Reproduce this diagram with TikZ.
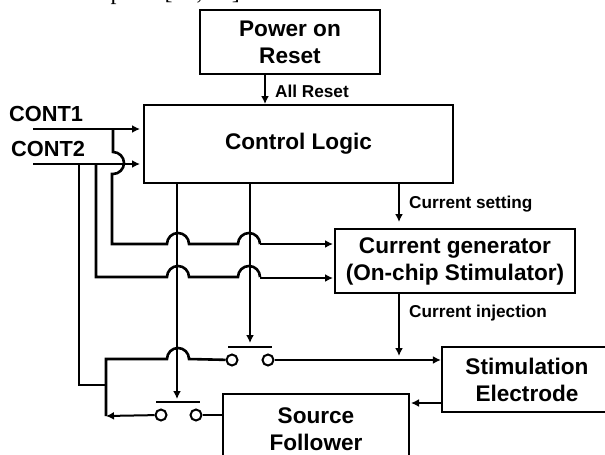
\documentclass[tikz,border=0pt]{standalone}
\usepackage{fontspec}
\setmainfont{Liberation Sans}
\newfontfamily\serifcut{Liberation Serif}
\usetikzlibrary{arrows.meta, positioning}
\tikzset{
  % solid black block
  blockbox/.style={draw=black, line width=2.3pt, fill=white, inner sep=0pt, align=center,
                   font=\bfseries\fontsize{22.6}{27}\selectfont},
  % signal wires
  wire/.style={draw=black, line width=2.6pt},
  sigwire/.style={draw=black, line width=2pt, -{Latex[length=8pt,width=8pt]}},
  % switch contact
  contact/.style={circle, draw=black, fill=white, line width=2pt, inner sep=0pt, minimum size=11pt},
  siglabel/.style={font=\bfseries\fontsize{17.2}{19}\selectfont, anchor=west, inner sep=0pt},
  contlabel/.style={font=\bfseries\fontsize{21.8}{24}\selectfont, anchor=west, inner sep=0pt},
}
\begin{document}
\begin{tikzpicture}[x=1pt,y=-1pt]
  \useasboundingbox (0,0) rectangle (605,455);
  \begin{scope}
  \clip (0,0) rectangle (605,455);
  % blocks
  \node[blockbox, minimum width=180pt, minimum height=64pt] (por) at (290,42) {Power on\\Reset};
  \node[blockbox, minimum width=309pt, minimum height=78pt] (logic) at (298.5,144) {Control Logic};
  \node[blockbox, minimum width=240pt, minimum height=64pt] (gen) at (455,261) {Current generator\\(On-chip Stimulator)};
  \node[blockbox, minimum width=170pt, minimum height=65pt] (elec) at (527,379.5) {Stimulation\\Electrode};
  \node[blockbox, minimum width=186pt, minimum height=70pt] (follower) at (316,429) {Source\\Follower};
  % text above the figure, cut by the page edge
  \node[font=\serifcut\fontsize{24}{26}\selectfont, anchor=base east, inner sep=0pt] (cuttext) at (246,0) {reports [10, 11].};
  \end{scope}
  % control inputs
  \node[contlabel] (cont1) at (9,114) {CONT1};
  \node[contlabel] (cont2) at (11,149) {CONT2};
  \coordinate (in1) at (33,129);
  \coordinate (in2) at (33,164);
  \draw[sigwire] (in1) -- (140,129);
  \draw[sigwire] (in2) -- (140,164);
  \draw[sigwire, line width=2.6pt] (por.south -| 265,0) -- (265,104);
  \node[siglabel] (allreset) at (275,91) {All Reset};
  % current path
  \draw[sigwire] (399,183) -- (399,222);
  \node[siglabel] (setting) at (409,204) {Current setting};
  \draw[sigwire] (399,293) -- (399,356);
  \node[siglabel] (injection) at (409,313) {Current injection};
  % switches
  \node[contact] (sw1a) at (232,360) {};
  \node[contact] (sw1b) at (268,360) {};
  \node[contact] (sw2a) at (161,415) {};
  \node[contact] (sw2b) at (196,415) {};
  \draw[line width=2.6pt] (228,347) coordinate (bar1l) -- (272,347) coordinate (bar1r);
  \draw[line width=2.6pt] (156,402) coordinate (bar2l) -- (200,402) coordinate (bar2r);
  % gate lines from the logic
  \draw[sigwire] (177,183) -- (177,399);
  \draw[sigwire] (250,183) -- (250,343);
  % CONT1 to generator
  \draw[wire] (113,129) -- (113,152) arc[start angle=-90, end angle=90, radius=11]
    -- (112,174) -- (112,244) -- (167,244) arc[start angle=180, end angle=360, radius=11]
    -- (238,244) arc[start angle=180, end angle=360, radius=11];
  \draw[sigwire] (260,244) -- (333,244);
  % CONT2 to generator
  \draw[wire] (96,164) -- (96,277) -- (167,277) arc[start angle=180, end angle=360, radius=11]
    -- (238,277) arc[start angle=180, end angle=360, radius=11];
  \draw[sigwire] (260,278) -- (333,278);
  % CONT2 to the switches
  \draw[wire] (79,164) -- (79,385) -- (106,385);
  \draw[wire] (106,416) -- (106,359) -- (167,359) arc[start angle=180, end angle=360, radius=11] -- (sw1a);
  \draw[sigwire] (sw1b) -- (elec.west |- sw1b);
  \draw[sigwire] (sw2a) -- (106,416);
  \draw[wire] (sw2b) -- (follower.west |- sw2b);
  \draw[sigwire] (elec.west |- 0,403) -- (411,403);
\end{tikzpicture}
\end{document}
